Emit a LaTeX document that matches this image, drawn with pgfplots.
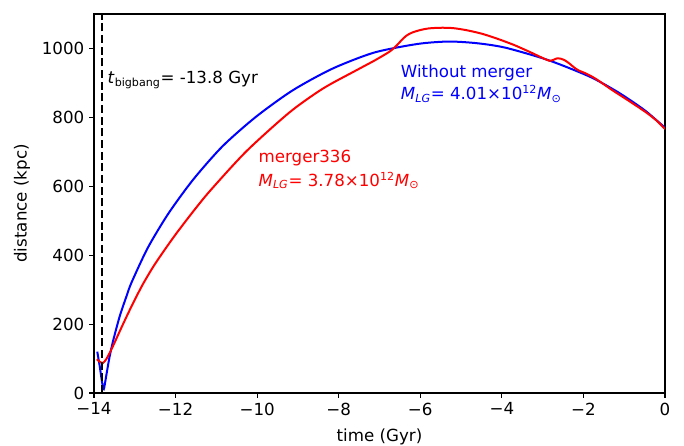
\documentclass[border=0pt]{standalone}
\usepackage{fontspec}
\setmainfont{DejaVu Sans}
\usepackage{pgfplots}
\pgfplotsset{compat=1.18}
\begin{document}
\begin{tikzpicture}
\begin{axis}[
  at={(0,0)}, anchor=south west,
  scale only axis, width=411.1pt, height=272.9pt,
  xmin=-14, xmax=0, ymin=0, ymax=1100,
  xtick={-14,-12,-10,-8,-6,-4,-2,0},
  xticklabels={−14,−12,−10,−8,−6,−4,−2,0},
  ytick={0,200,400,600,800,1000},
  yticklabels={0,200,400,600,800,1000},
  ticklabel style={font=\fontsize{12}{14}\selectfont},
  tick align=outside, tick pos=left,
  major tick length=3.5pt,
  every tick/.style={black, line width=0.8pt},
  axis line style={line width=0.8pt},
  xlabel={time (Gyr)}, ylabel={distance (kpc)},
  label style={font=\fontsize{12}{14}\selectfont},
  xlabel style={at={(axis description cs:0.5,-0.116)}, anchor=center},
  ylabel style={at={(axis description cs:-0.126,0.5)}, anchor=center},
  clip=true,
]
\addplot[blue, line width=1.44pt, smooth, tension=0.45] coordinates {
(-13.92,120) (-13.86,78) (-13.80,30) (-13.76,11) (-13.70,50) (-13.62,104)
(-13.53,152) (-13.371,222) (-13.2,282) (-13.075,322) (-12.678,422) (-12.175,521)
(-11.564,620) (-10.849,716) (-10.035,801) (-9.133,878) (-8.159,941) (-7.13,988)
(-6.064,1013) (-5.3,1020) (-4.6,1015) (-3.908,1002) (-2.861,966) (-1.861,919)
(-1.28,882) (-0.928,856) (-0.47,818) (0,770)
};
\addplot[red, line width=1.44pt, smooth, tension=0.45] coordinates {
(-13.93,98) (-13.85,90) (-13.78,87) (-13.7,98) (-13.6,120) (-13.5,145)
(-13.35,184) (-13.2,222) (-13.02,266) (-12.8,316) (-12.55,366) (-12.3,410)
(-12.0,460) (-11.6,522) (-11.16,586) (-10.26,702) (-9.2,815) (-8.38,884)
(-7.56,937) (-7.15,963)
(-6.9,980) (-6.75,991) (-6.6,1006) (-6.45,1025) (-6.34,1037) (-6.2,1046)
(-6.01,1053) (-5.8,1058) (-5.5,1060) (-5.2,1059) (-4.87,1053) (-4.5,1043)
(-4.13,1029) (-3.7,1010) (-3.32,990) (-3.05,975) (-2.9,967) (-2.83,964)
(-2.75,966) (-2.65,971) (-2.55,970) (-2.45,965) (-2.34,956) (-2.22,944)
(-2.1,935) (-1.95,928) (-1.7,912) (-1.28,878) (-0.9,849) (-0.47,815)
(-0.2,790) (0,766)
};
\addplot[black, line width=1.44pt, dash pattern=on 5.8pt off 2.6pt] coordinates {(-13.8,0) (-13.8,1100)};
\node[anchor=base west, inner sep=0pt, font=\fontsize{12}{14}\selectfont] at (axis cs:-13.67,898)
  {\textit{t}\textsubscript{bigbang}= -13.8 Gyr};
\node[anchor=base west, inner sep=0pt, text=blue, font=\fontsize{12}{14}\selectfont] at (axis cs:-6.48,917)
  {Without merger};
\node[anchor=base west, inner sep=0pt, text=blue, font=\fontsize{12}{14}\selectfont] at (axis cs:-6.48,851)
  {\textit{M}\textsubscript{\textit{LG}}= 4.01×10\textsuperscript{12}\textit{M}\textsubscript{⊙}};
\node[anchor=base west, inner sep=0pt, text=red, font=\fontsize{12}{14}\selectfont] at (axis cs:-9.97,668)
  {merger336};
\node[anchor=base west, inner sep=0pt, text=red, font=\fontsize{12}{14}\selectfont] at (axis cs:-9.97,600)
  {\textit{M}\textsubscript{\textit{LG}}= 3.78×10\textsuperscript{12}\textit{M}\textsubscript{⊙}};
\end{axis}
\pgfresetboundingbox
\path (-67.68pt,-38.16pt) rectangle (424.8pt,282.96pt);
\end{tikzpicture}
\end{document}
